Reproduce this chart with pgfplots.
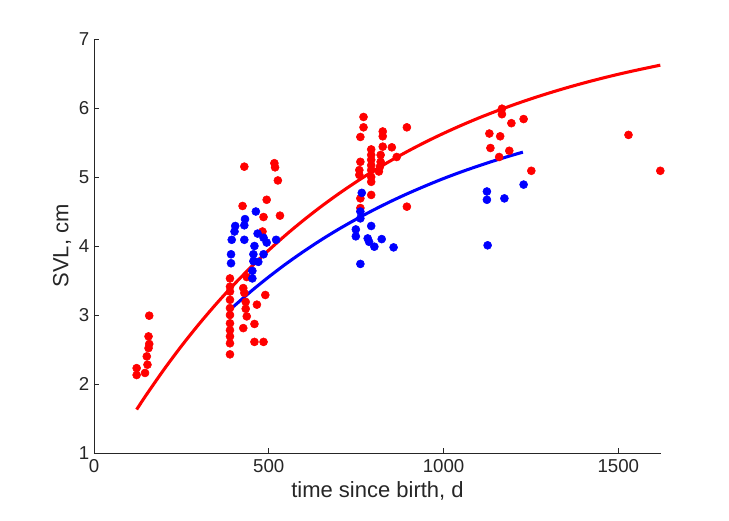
\documentclass[border=0pt]{standalone}
\usepackage{fontspec}
\setmainfont{Liberation Sans}
\usepackage{pgfplots}
\pgfplotsset{compat=1.18}
\definecolor{axgray}{RGB}{38,38,38}
\begin{document}
\begin{tikzpicture}
\begin{axis}[
  scale only axis,
  width=425.25pt, height=310.5pt,
  xmin=0, xmax=1622, ymin=1, ymax=7,
  axis lines=left,
  axis line style={-, axgray, line width=0.5pt},
  xtick={0,500,1000,1500},
  ytick={1,2,3,4,5,6,7},
  tick align=inside,
  major tick length=4pt,
  tick style={axgray, line width=0.5pt},
  every tick label/.append style={font=\fontsize{14}{16}\selectfont, text=axgray},
  xticklabel style={yshift=-1pt},
  /pgf/number format/assume math mode=true,
  /pgf/number format/1000 sep={},
  xlabel={time since birth, d},
  ylabel={SVL, cm},
  label style={font=\fontsize{16.5}{19}\selectfont, text=axgray},
  xlabel style={yshift=0pt},
  ylabel style={yshift=-1pt},
  clip=false,
]
% red points
\addplot[only marks, mark=*, mark size=3pt, red, mark options={draw=red, fill=red}] coordinates {
(122,2.13) (122,2.23) (146,2.16) (153,2.28) (151,2.40) (156,2.52) (158,2.58) (156,2.69) (158,2.99)
(389,3.53) (389,3.41) (389,3.34) (389,3.22) (389,3.10) (389,3.00) (389,2.88) (389,2.78) (389,2.69) (389,2.59) (389,2.43)
(430,5.15) (516,5.20) (518,5.14) (526,4.95) (494,4.67) (425,4.58) (485,4.42) (532,4.44) (482,4.21)
(437,3.55) (427,3.39) (430,3.32) (434,3.19) (434,3.09) (437,2.98) (490,3.29) (466,3.15)
(459,2.87) (427,2.81) (459,2.61) (485,2.61)
(771,5.87) (771,5.72) (762,5.58) (826,5.66) (826,5.59) (895,5.72) (793,5.40) (826,5.44) (852,5.43)
(793,5.32) (793,5.25) (793,5.17) (793,5.10) (793,5.00) (793,4.93) (793,4.74)
(820,5.32) (820,5.22) (818,5.15) (815,5.08) (762,5.22) (759,5.10) (759,5.03) (866,5.29)
(895,4.57) (762,4.69) (762,4.55)
(1167,5.99) (1167,5.91) (1194,5.78) (1229,5.84) (1131,5.63) (1162,5.59) (1134,5.42) (1188,5.38) (1159,5.29) (1251,5.09)
(1529,5.61) (1620,5.09)
};
% red curve
\addplot[red, line width=2.3pt, no marks, smooth] coordinates {
(122,1.630) (150,1.845) (200,2.209) (250,2.549) (300,2.866) (350,3.163) (400,3.440) (450,3.698)
(500,3.940) (550,4.166) (600,4.376) (650,4.573) (700,4.757) (750,4.929) (800,5.090) (850,5.240)
(900,5.380) (950,5.511) (1000,5.633) (1050,5.747) (1100,5.854) (1150,5.953) (1200,6.046) (1250,6.133)
(1300,6.214) (1350,6.290) (1400,6.361) (1450,6.427) (1500,6.489) (1550,6.546) (1620,6.621)
};
% blue points
\addplot[only marks, mark=*, mark size=3pt, blue, mark options={draw=blue, fill=blue}] coordinates {
(463,4.50) (432,4.39) (430,4.30) (404,4.29) (402,4.21) (394,4.09) (430,4.09) (468,4.18) (485,4.12)
(494,4.05) (521,4.09) (459,4.00) (392,3.88) (456,3.88) (485,3.88) (392,3.75) (456,3.78) (470,3.77)
(453,3.64) (453,3.53)
(766,4.77) (762,4.50) (762,4.40) (793,4.29) (749,4.24) (749,4.14) (783,4.11) (823,4.10) (802,3.99)
(787,4.06) (857,3.98) (762,3.74)
(1229,4.89) (1124,4.79) (1124,4.67) (1174,4.69) (1126,4.01)
};
% blue curve
\addplot[blue, line width=2.3pt, no marks, smooth] coordinates {
(394,3.100) (450,3.347) (500,3.552) (550,3.744) (600,3.922) (650,4.089) (700,4.244) (750,4.388)
(800,4.523) (850,4.649) (900,4.766) (950,4.875) (1000,4.978) (1050,5.073) (1100,5.161) (1150,5.244)
(1200,5.321) (1227,5.360)
};
\end{axis}
\useasboundingbox (-70.5pt,-51pt) rectangle (476.25pt,339.75pt);
\end{tikzpicture}
\end{document}
